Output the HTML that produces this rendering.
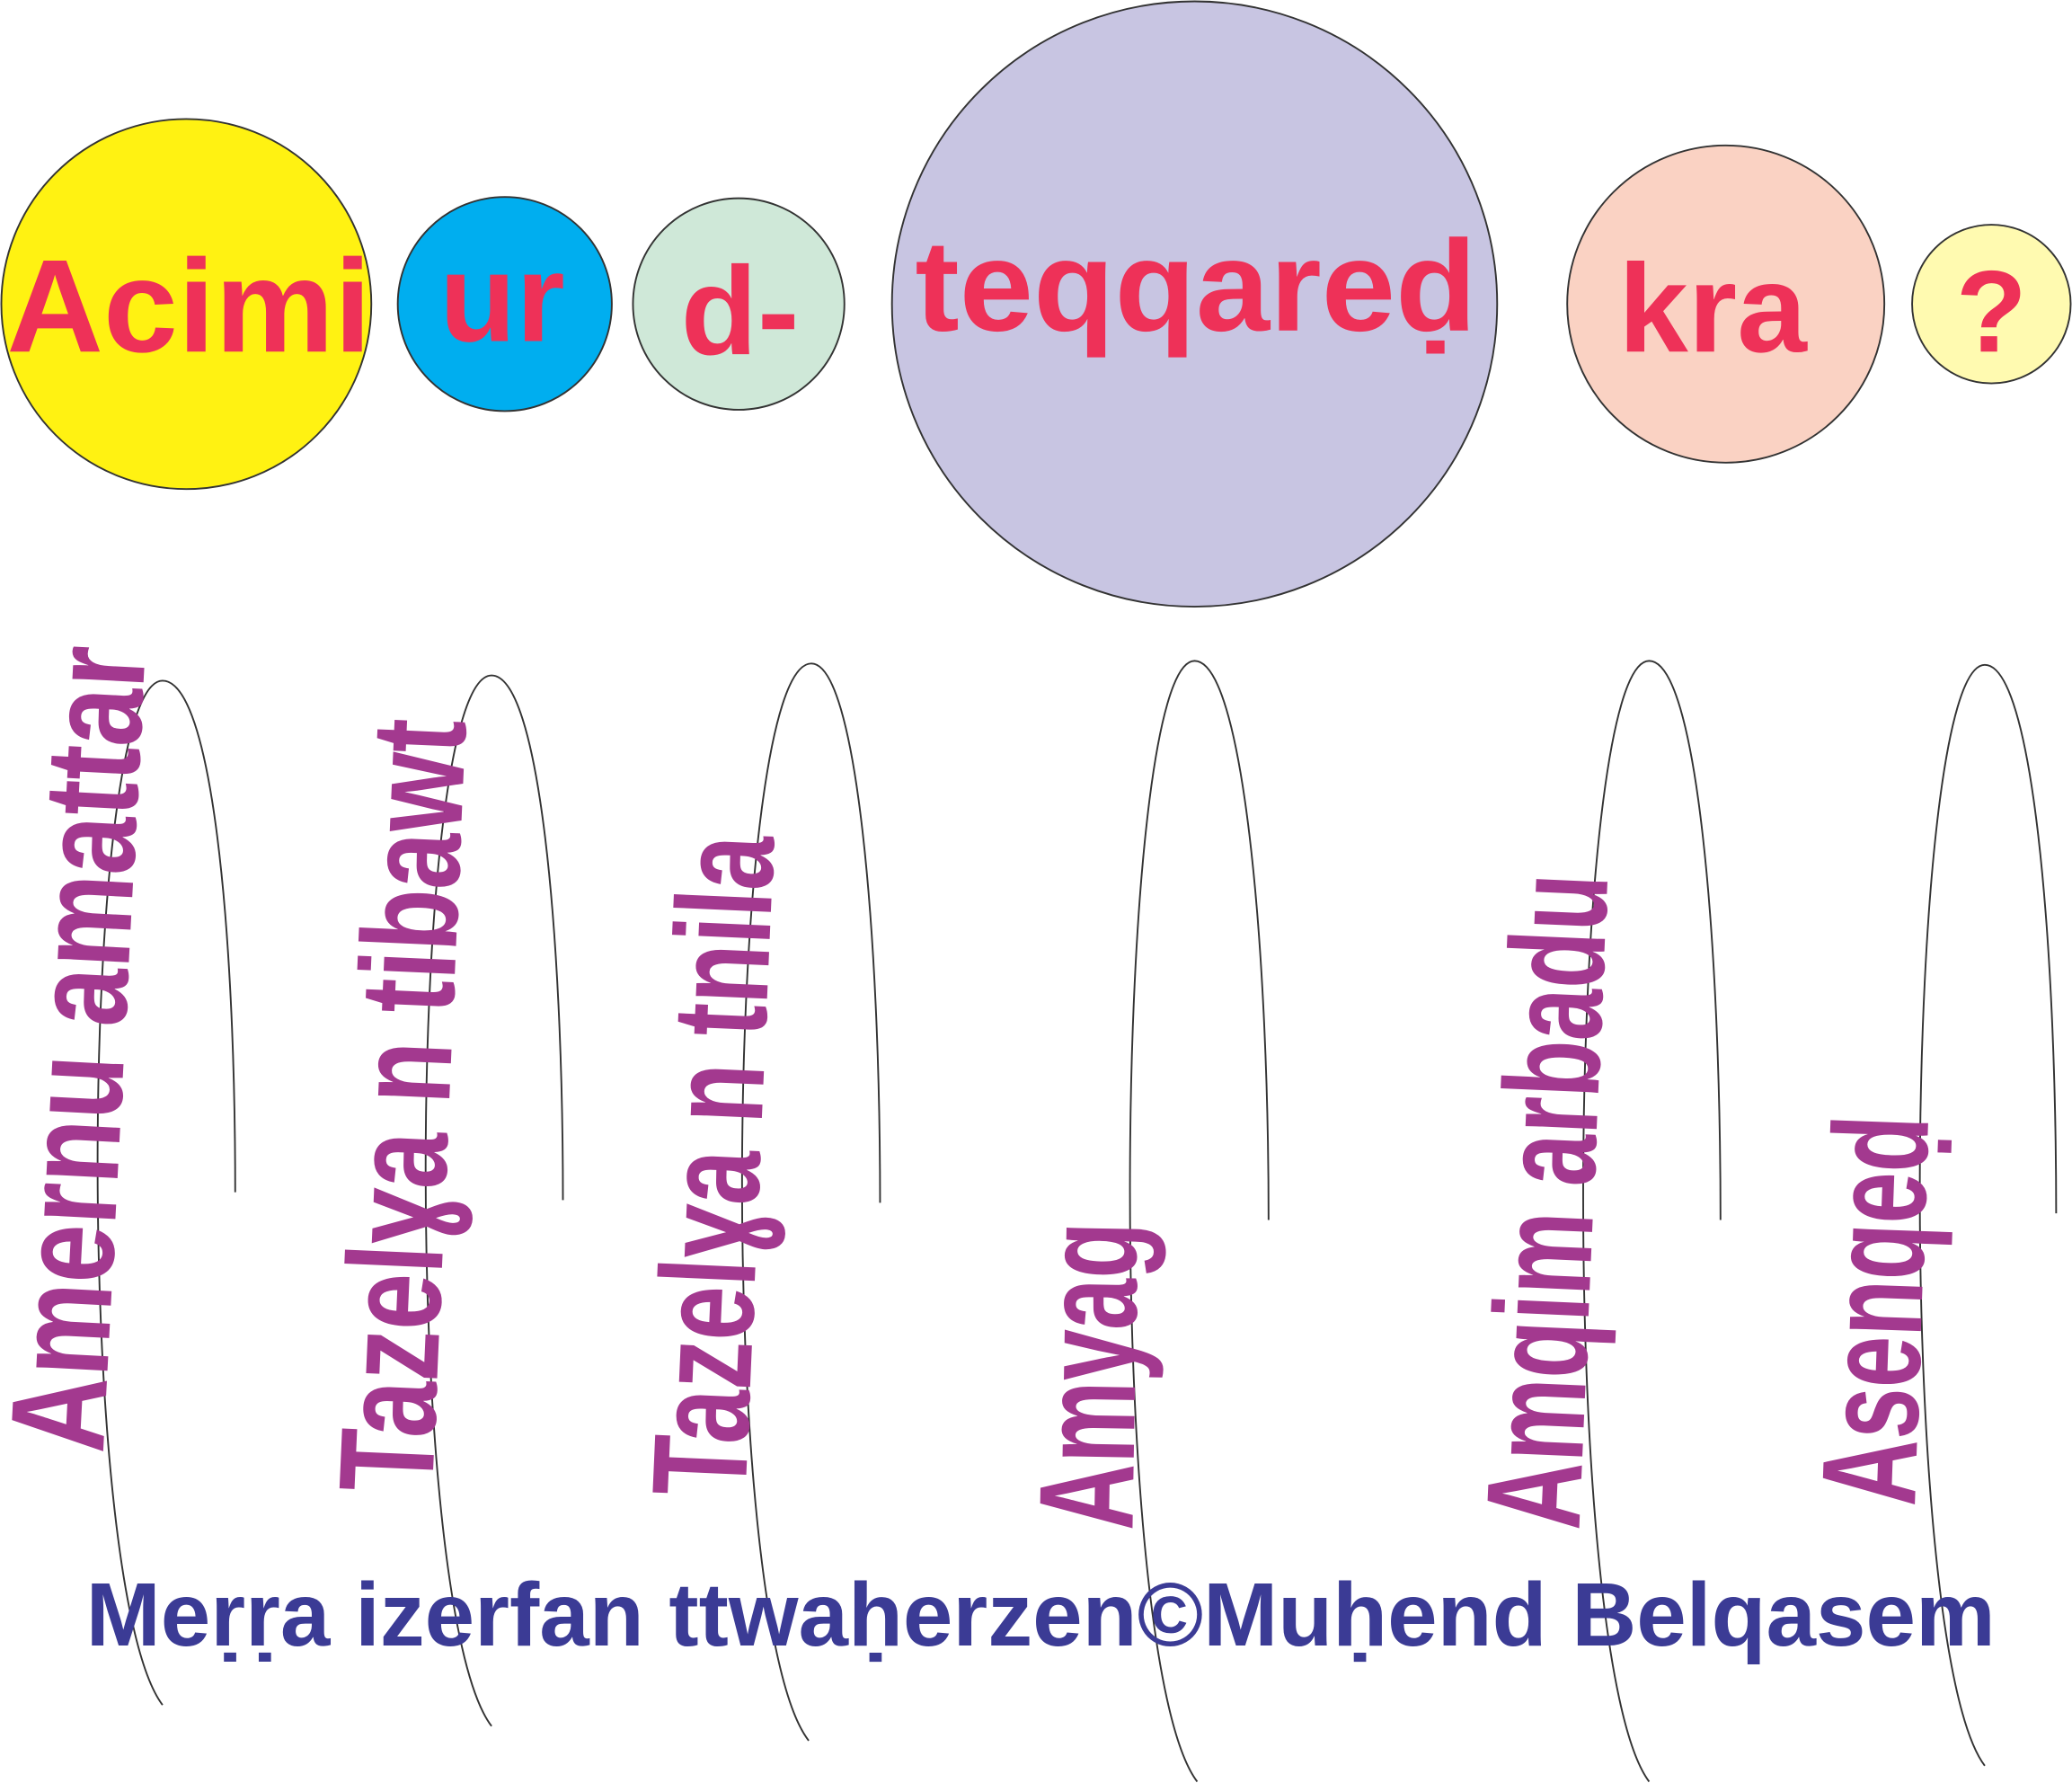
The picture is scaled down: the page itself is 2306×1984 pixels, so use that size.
<!DOCTYPE html>
<html><head><meta charset="utf-8"><style>html,body{margin:0;padding:0;background:#fff}svg{display:block}</style></head>
<body>
<svg width="2306" height="1984" viewBox="0 0 1568 1349" xmlns="http://www.w3.org/2000/svg">
<g stroke="#333" stroke-width="1.3">
<circle cx="141" cy="230" r="140" fill="#fff212"/>
<circle cx="382" cy="230" r="81" fill="#00aeef"/>
<circle cx="559" cy="230" r="80" fill="#cfe8d8"/>
<circle cx="904" cy="230" r="229" fill="#c8c5e2"/>
<circle cx="1306" cy="230" r="120" fill="#fad2c3"/>
<circle cx="1507" cy="230" r="60" fill="#fffab0"/>
</g>
<g font-family="Liberation Sans, sans-serif" font-weight="bold" fill="#ee3158" text-anchor="middle">
<text x="143" y="266" font-size="100" textLength="276" lengthAdjust="spacingAndGlyphs">Acimi</text>
<text x="380" y="258" font-size="95">ur</text>
<text x="560" y="268" font-size="95">d-</text>
<text x="905" y="250" font-size="98" textLength="425" lengthAdjust="spacingAndGlyphs">teqqareḍ</text>
<text x="1296" y="266" font-size="95">kra</text>
<text x="1507" y="266" font-size="88">?</text>
</g>
<g fill="none" stroke="#333" stroke-width="1.3">
<path d="M123,1290 C55,1200 60,515 123,515 C160,515 178,700 178,902"/>
<path d="M372,1306 C303,1216 308,511 372,511 C408,511 426,705 426,908"/>
<path d="M612,1317 C541,1226 548,502 614,502 C648,502 666,705 666,910"/>
<path d="M906,1348 C835,1255 842,500 904,500 C940,500 960,710 960,923"/>
<path d="M1248,1348 C1178,1255 1185,500 1248,500 C1284,500 1302,710 1302,923"/>
<path d="M1502,1336 C1433,1245 1440,503 1502,503 C1538,503 1556,710 1556,918"/>
</g>
<g font-family="Liberation Sans Narrow, Liberation Sans, sans-serif" font-weight="bold" fill="#a3398f" font-size="102">
<text transform="translate(78,1100) rotate(-87)" textLength="610" lengthAdjust="spacingAndGlyphs">Amernu amattar</text>
<text transform="translate(327,1130) rotate(-87.5)" textLength="585" lengthAdjust="spacingAndGlyphs">Tazelɣa n tibawt</text>
<text transform="translate(564,1133) rotate(-87.5)" textLength="500" lengthAdjust="spacingAndGlyphs">Tazelɣa n tnila</text>
<text transform="translate(857,1158) rotate(-89)" textLength="233" lengthAdjust="spacingAndGlyphs">Amyag</text>
<text transform="translate(1195,1158) rotate(-87.5)" textLength="496" lengthAdjust="spacingAndGlyphs">Amqim arbadu</text>
<text transform="translate(1449,1140) rotate(-88)" textLength="295" lengthAdjust="spacingAndGlyphs">Asenqeḍ</text>
</g>
<text x="65" y="1245" font-family="Liberation Sans, sans-serif" font-weight="bold" font-size="68" fill="#3b3b95" textLength="1445" lengthAdjust="spacingAndGlyphs">Meṛṛa izerfan ttwaḥerzen©Muḥend Belqasem</text>
</svg>
</body></html>
